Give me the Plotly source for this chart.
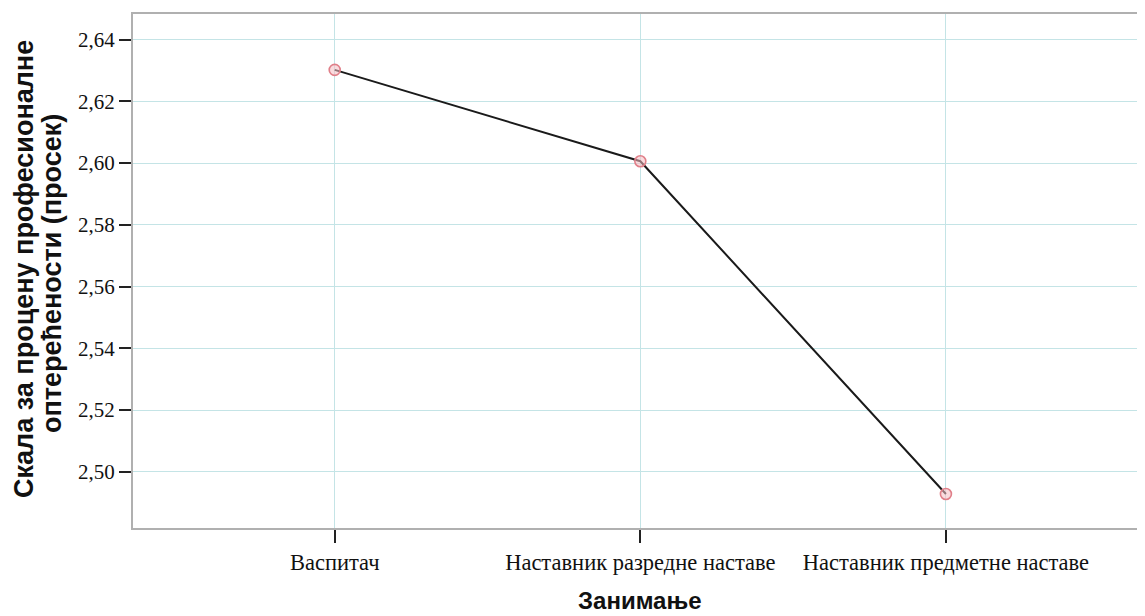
import plotly.graph_objects as go

categories = ["Васпитач", "Наставник разредне наставе", "Наставник предметне наставе"]
means = [2.6302, 2.6006, 2.4928]
y_tick_vals = [2.50, 2.52, 2.54, 2.56, 2.58, 2.60, 2.62, 2.64]
y_tick_text = ["2,50", "2,52", "2,54", "2,56", "2,58", "2,60", "2,62", "2,64"]
y_title_lines = ["Скала за процену професионалне", "оптерећености (просек)"]
x_title = "Занимање"

fig = go.Figure()
fig.add_trace(go.Scatter(
    x=categories, y=means, mode="lines+markers",
    line=dict(color="#1a1a1a", width=2),
    marker=dict(symbol="circle", size=11, color="rgba(245,190,195,0.55)",
                line=dict(width=1.6, color="#e07f89")),
    showlegend=False,
))

title_font = dict(family="Liberation Sans", size=27, color="#111")

fig.update_layout(
    width=1137, height=608,
    margin=dict(l=125, r=5, t=4, b=88),
    paper_bgcolor="white", plot_bgcolor="white",
    xaxis=dict(
        type="category", range=[-0.66, 2.635],
        showgrid=True, gridcolor="#c4e4e6", gridwidth=1,
        showline=True, linecolor="#b0b0b0", linewidth=2, mirror=True,
        ticks="outside", ticklen=13, tickcolor="#222", tickwidth=1.5,
        tickfont=dict(family="Liberation Serif", size=22.5, color="#111"),
    ),
    yaxis=dict(
        range=[2.4818, 2.6483],
        tickvals=y_tick_vals, ticktext=y_tick_text,
        showgrid=True, gridcolor="#c4e4e6", gridwidth=1,
        showline=True, linecolor="#b0b0b0", linewidth=2,
        ticks="outside", ticklen=12, tickcolor="#222", tickwidth=1.5,
        tickfont=dict(family="Liberation Serif", size=21, color="#111"),
        zeroline=False,
    ),
)

fig.add_annotation(text="<b>" + y_title_lines[0] + "</b>", textangle=-90,
                   xref="paper", yref="paper", x=0, y=0.504, xshift=-109,
                   xanchor="center", yanchor="middle", showarrow=False, font=title_font)
fig.add_annotation(text="<b>" + y_title_lines[1] + "</b>", textangle=-90,
                   xref="paper", yref="paper", x=0, y=0.494, xshift=-81,
                   xanchor="center", yanchor="middle", showarrow=False, font=title_font)
fig.add_annotation(text="<b>" + x_title + "</b>",
                   xref="paper", yref="paper", x=0.5, y=-0.1415, xshift=3,
                   xanchor="center", yanchor="middle", showarrow=False,
                   font=dict(family="Liberation Sans", size=24, color="#111"))

fig.write_html("out.html")
